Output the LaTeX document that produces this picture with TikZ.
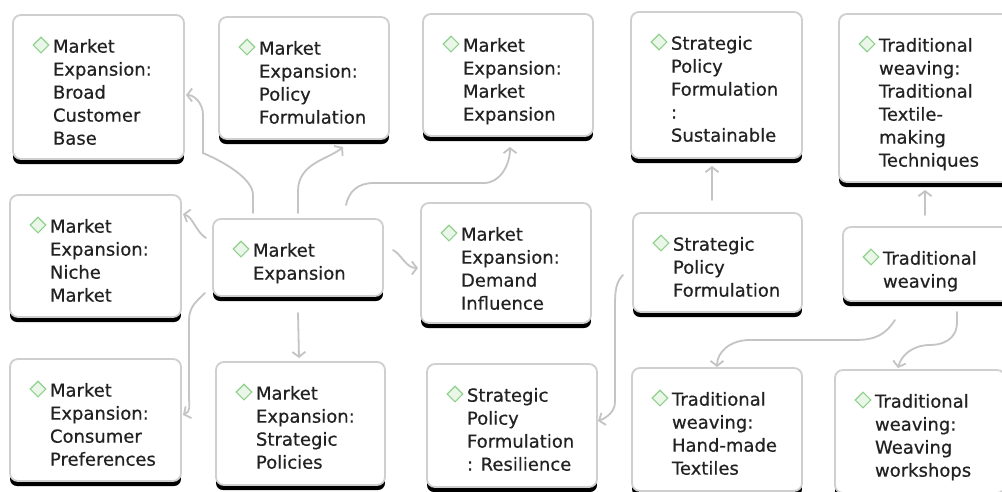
\documentclass[tikz,border=0pt]{standalone}
\usepackage{fontspec}
\setmainfont{DejaVu Sans}
\newfontfamily\boxfont{DejaVu Sans}[FakeBold=0.5]
\usetikzlibrary{arrows.meta,calc}
\definecolor{bordergray}{HTML}{CFCFCF}
\definecolor{linegray}{HTML}{C4C4C4}
\definecolor{txtcol}{HTML}{222222}
\definecolor{dgreen}{HTML}{8FD18C}
\definecolor{lgreen}{HTML}{EAF6E8}
\tikzset{
  boxsty/.style={draw=bordergray, line width=1.8pt, rounded corners=8pt, fill=white, inner sep=0pt, outer sep=0pt},
  txtsty/.style={font=\boxfont\fontsize{18}{23}\selectfont, text=txtcol, align=left, inner sep=0pt, outer sep=0pt},
  diam/.style={rectangle, rotate=45, minimum size=11pt, inner sep=0pt, draw=dgreen, fill=lgreen, line width=1.1pt},
  conn/.style={draw=linegray, line width=1.8pt, line cap=round, -{Straight Barb[length=5pt,width=13pt]}},
}
\newcommand\mkbox[6]{%
  \fill[black, rounded corners=7pt] (#2,#3+#5-14) rectangle (#2+#4,#3+#5);
  \node[boxsty, minimum width=#4pt, minimum height=#5pt-5pt, anchor=north west] (#1) at (#2,#3) {};
  \node[diam] (#1d) at ($(#1.north west)+(28,30)$) {};
  \node[txtsty, anchor=north west] (#1t) at ($(#1.north west)+(40,24)$) {#6};
}
\begin{document}
\begin{tikzpicture}[x=1pt,y=-1pt]
\useasboundingbox (0,0) rectangle (1002,491);
\fill[white] (0,0) rectangle (1002,491);
\clip (0,0) rectangle (1002,491);
\mkbox{A}{13}{15}{171}{149}{Market\\Expansion:\\Broad\\Customer\\Base}
\mkbox{B}{219}{17}{170}{127}{Market\\Expansion:\\Policy\\Formulation}
\mkbox{C}{423}{14}{170}{127}{Market\\Expansion:\\Market\\Expansion}
\mkbox{D}{631}{12}{171}{151}{Strategic\\Policy\\Formulation\\:\\Sustainable}
\mkbox{E}{839}{14}{172}{173}{Traditional\\weaving:\\Traditional\\Textile-\\making\\Techniques}
\mkbox{F}{10}{195}{171}{127}{Market\\Expansion:\\Niche\\Market}
\mkbox{G}{213}{219}{170}{82}{Market\\Expansion}
\mkbox{H}{421}{203}{170}{125}{Market\\Expansion:\\Demand\\Influence}
\mkbox{I}{633}{213}{169}{104}{Strategic\\Policy\\Formulation}
\mkbox{J}{843}{227}{170}{79}{Traditional\\weaving}
\mkbox{K}{10}{359}{171}{127}{Market\\Expansion:\\Consumer\\Preferences}
\mkbox{L}{216}{362}{169}{128}{Market\\Expansion:\\Strategic\\Policies}
\mkbox{M}{427}{364}{170}{128}{Strategic\\Policy\\Formulation\\: Resilience}
\mkbox{N}{632}{368}{170}{128}{Traditional\\weaving:\\Hand-made\\Textiles}
\mkbox{O}{835}{370}{170}{128}{Traditional\\weaving:\\Weaving\\workshops}
% connectors
\draw[conn] ($(G.north west)+(40,-6)$) -- ++(0,-18) .. controls +(0,-14) and +(28,12) .. ++(-50,-42) -- ++(0,-38) .. controls +(0,-12) and +(8,0) .. ($(A.north east)+(2,80)$);
\draw[conn] ($(G.north west)+(85,-6)$) -- ++(0,-22) .. controls +(0,-28) and +(-14,12) .. ($(B.south west)+(124,8)$);
\draw[conn] ($(G.north west)+(133,-14)$) .. controls +(3,-14) and +(-16,0) .. ++(28,-22) -- ++(110,0) .. controls +(16,0) and +(0,18) .. ($(C.south west)+(87,11)$);
\draw[conn] ($(G.north west)+(-7,19)$) .. controls +(-10,-6) and +(10,3) .. ($(F.north east)+(2,19)$);
\draw[conn] ($(G.south west)+(-8,-3)$) .. controls +(-7,7) and +(0,-14) .. ++(-16,27) -- ++(0,75) .. controls +(0,12) and +(8,-4) .. ($(K.north east)+(2,56)$);
\draw[conn] ($(G.south west)+(85,17)$) -- ($(L.north west)+(83,-4)$);
\draw[conn] ($(G.north east)+(10,31)$) .. controls +(9,5) and +(-12,0) .. ($(H.north west)+(-3,65)$);
\draw[conn] ($(I.north west)+(79,-13)$) -- ($(D.south west)+(81,8)$);
\draw[conn] ($(I.north west)+(-10,62)$) .. controls +(-7,7) and +(0,-14) .. ++(-8,30) -- ++(0,97) .. controls +(0,10) and +(8,-3) .. ($(M.north east)+(1,57)$);
\draw[conn] ($(J.north west)+(82,-12)$) -- ($(E.south west)+(86,8)$);
\draw[conn] ($(J.south west)+(52,19)$) .. controls +(-10,15) and +(20,0) .. ++(-40,20) -- ++(-105,0) .. controls +(-20,0) and +(0,-15) .. ($(N.north west)+(85,-1)$);
\draw[conn] ($(J.south west)+(114,11)$) -- ++(0,10) .. controls +(0,18) and +(12,0) .. ++(-27,23) .. controls +(-18,0) and +(3,-12) .. ($(O.north west)+(63,-2)$);
\end{tikzpicture}
\end{document}
